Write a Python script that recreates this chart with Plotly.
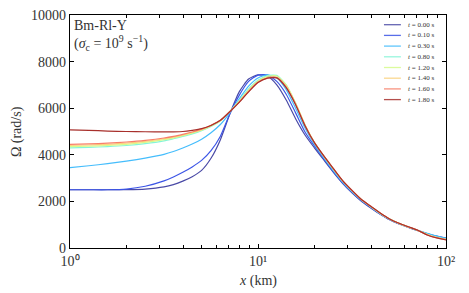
import plotly.graph_objects as go

# log10(x) grid (x in km)
log_x = [0, 0.1, 0.2, 0.3, 0.4, 0.5, 0.55, 0.6, 0.65, 0.7, 0.75, 0.8, 0.85, 0.9, 0.95, 1.0, 1.05, 1.1, 1.15,
         1.2, 1.25, 1.3, 1.35, 1.4, 1.45, 1.5, 1.55, 1.6, 1.65, 1.7, 1.75, 1.8, 1.85, 1.9, 1.95, 2.0]
x_km = [10 ** v for v in log_x]

labels = ["0.00", "0.10", "0.30", "0.80", "1.20", "1.40", "1.60", "1.80"]

omega_t000 = [2500, 2500, 2500, 2505, 2530, 2620, 2720, 2870, 3060, 3330, 3850, 4650, 5750, 6700, 7250, 7430, 7380, 7000, 6350,
              5550, 4850, 4300, 3780, 3260, 2780, 2370, 2010, 1720, 1450, 1210, 1030, 880, 740, 610, 500, 420]
omega_t010 = [2500, 2500, 2500, 2530, 2650, 2880, 3050, 3250, 3480, 3760, 4180, 4800, 5750, 6550, 7150, 7420, 7430, 7150, 6600,
              5800, 4980, 4380, 3830, 3290, 2800, 2390, 2030, 1740, 1460, 1220, 1040, 890, 750, 620, 510, 425]
omega_t030 = [3450, 3530, 3620, 3730, 3860, 4020, 4140, 4290, 4460, 4670, 4950, 5300, 5800, 6400, 6950, 7300, 7430, 7300, 6800,
              6000, 5150, 4450, 3880, 3330, 2830, 2420, 2050, 1760, 1470, 1230, 1050, 895, 755, 625, 515, 420]
omega_t080 = [4300, 4320, 4350, 4400, 4480, 4600, 4690, 4790, 4900, 5040, 5220, 5450, 5850, 6330, 6830, 7200, 7400, 7410, 7000,
              6200, 5280, 4520, 3930, 3380, 2870, 2450, 2070, 1775, 1485, 1240, 1055, 900, 750, 590, 465, 380]
omega_t120 = [4350, 4370, 4400, 4450, 4530, 4650, 4730, 4820, 4930, 5060, 5240, 5460, 5850, 6300, 6790, 7170, 7370, 7380, 7000,
              6220, 5290, 4530, 3940, 3400, 2880, 2460, 2075, 1780, 1490, 1242, 1057, 902, 752, 585, 455, 370]
omega_t140 = [4400, 4420, 4450, 4500, 4580, 4690, 4760, 4850, 4960, 5080, 5260, 5470, 5850, 6280, 6750, 7140, 7320, 7330, 6950,
              6200, 5280, 4530, 3945, 3410, 2885, 2465, 2078, 1785, 1495, 1244, 1058, 905, 755, 575, 445, 360]
omega_t160 = [4450, 4470, 4500, 4550, 4620, 4720, 4790, 4880, 4980, 5100, 5270, 5480, 5850, 6260, 6720, 7110, 7290, 7310, 6900,
              6170, 5260, 4520, 3950, 3415, 2890, 2468, 2080, 1787, 1497, 1245, 1060, 907, 757, 565, 440, 355]
omega_t180 = [5070, 5050, 5020, 5000, 4990, 4980, 4985, 5000, 5050, 5120, 5260, 5480, 5850, 6250, 6700, 7100, 7290, 7300, 6880,
              6150, 5250, 4520, 3950, 3420, 2890, 2470, 2080, 1790, 1500, 1245, 1060, 910, 760, 560, 435, 350]

series = [omega_t000, omega_t010, omega_t030, omega_t080, omega_t120, omega_t140, omega_t160, omega_t180]
colors = ["#4a4aa6", "#3c55e6", "#45bdfc", "#86f5d8", "#d6fb8c", "#fbd27e", "#f8806a", "#a8302c"]

x_tickvals = [1, 10, 100]
x_ticktext = ["10⁰", "10¹", "10²"]
y_tickvals = [0, 2000, 4000, 6000, 8000, 10000]
y_ticktext = ["0", "2000", "4000", "6000", "8000", "10000"]

serif = "Liberation Serif"
txt_color = "#333333"

fig = go.Figure()
for lab, ys, c in zip(labels, series, colors):
    fig.add_trace(go.Scatter(
        x=x_km, y=ys, mode="lines", name="<i>t</i> = " + lab + " s",
        line=dict(color=c, width=1.2, shape="spline", smoothing=0.6),
        showlegend=False,
    ))

axis_common = dict(
    showline=True, linecolor="black", linewidth=1.2, mirror="ticks",
    ticks="inside", ticklen=4, tickcolor="black", tickwidth=1,
    showgrid=False, zeroline=False, automargin=False,
    tickfont=dict(family=serif, size=14, color=txt_color),
)

fig.update_xaxes(
    type="log", range=[0, 2], tickvals=x_tickvals, ticktext=x_ticktext,
    ticklabeloverflow="allow",
    minor=dict(ticks="inside", ticklen=2.5, tickcolor="black", dtick="D1", showgrid=False),
    **axis_common,
)
fig.update_yaxes(
    range=[0, 10000], tickvals=y_tickvals, ticktext=y_ticktext,
    **axis_common,
)

# axis titles placed as paper annotations (fixed pixel positions)
fig.add_annotation(
    xref="paper", yref="paper", x=0.5, y=-0.142, xanchor="center", yanchor="middle",
    text="<i>x</i> (km)", showarrow=False,
    font=dict(family=serif, size=14, color=txt_color),
)
fig.add_annotation(
    xref="paper", yref="paper", x=-0.142, y=0.5, xanchor="center", yanchor="middle",
    text="Ω (rad/s)", showarrow=False, textangle=-90,
    font=dict(family=serif, size=14, color=txt_color),
)

fig.add_annotation(
    xref="paper", yref="paper", x=0.005, y=0.995, xanchor="left", yanchor="top",
    text="Bm-Rl-Y<br>(<i>σ</i><sub>c</sub> = 10<sup>9</sup> s<sup>−1</sup>)",
    showarrow=False, align="left",
    font=dict(family=serif, size=14, color=txt_color),
)

# manual compact legend (top right, inside axes)
plot_h_px = 233.0
row0_px = 9.7
row_step_px = 10.7
for i, (lab, c) in enumerate(zip(labels, colors)):
    yp = 1 - (row0_px + row_step_px * i) / plot_h_px
    fig.add_shape(type="line", xref="paper", yref="paper",
                  x0=0.835, x1=0.880, y0=yp, y1=yp,
                  line=dict(color=c, width=1.3), opacity=0.85)
    fig.add_annotation(xref="paper", yref="paper", x=0.893, y=yp,
                       xanchor="left", yanchor="middle", showarrow=False,
                       text="<i>t</i> = " + lab + " s",
                       font=dict(family=serif, size=7, color=txt_color))

fig.update_layout(
    width=469, height=293,
    margin=dict(l=70, r=23, t=15, b=45, autoexpand=False),
    plot_bgcolor="white", paper_bgcolor="white",
    showlegend=False,
)

fig.write_html(
    "out.html",
    config={"displayModeBar": False},
    post_script="document.body.style.margin='0';document.body.style.overflow='hidden';",
)
